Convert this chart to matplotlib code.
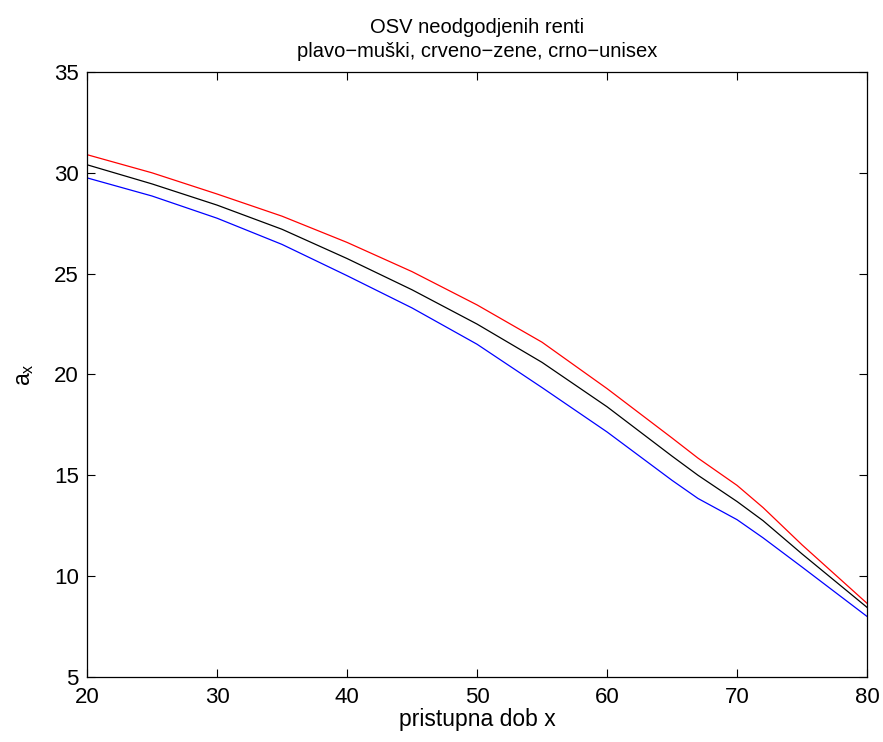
import matplotlib
matplotlib.use('Agg')
import matplotlib.pyplot as plt

# ages and annuity values
age_m = [20, 25, 30, 35, 40, 45, 50, 55, 60, 65, 67, 70, 72, 75, 80]
male = [29.75, 28.85, 27.75, 26.45, 24.9, 23.3, 21.5, 19.35, 17.15, 14.75, 13.85, 12.8, 11.9, 10.45, 8.0]

age_f = [20, 25, 30, 35, 40, 45, 50, 55, 60, 65, 67, 70, 72, 75, 80]
female = [30.9, 30.0, 28.95, 27.85, 26.55, 25.1, 23.45, 21.6, 19.3, 16.85, 15.85, 14.5, 13.4, 11.55, 8.65]

age_u = [20, 25, 30, 35, 40, 45, 50, 55, 60, 65, 67, 70, 72, 75, 80]
unisex = [30.4, 29.45, 28.4, 27.2, 25.75, 24.2, 22.5, 20.6, 18.4, 15.95, 15.0, 13.7, 12.75, 11.1, 8.45]

xticks = [20, 30, 40, 50, 60, 70, 80]
yticks = [5, 10, 15, 20, 25, 30, 35]

plt.rcParams['font.family'] = ['Liberation Sans', 'DejaVu Sans']

fig = plt.figure(figsize=(8.83, 7.42), dpi=100)
ax = fig.add_axes([0.0985, 0.0876, 0.8835, 0.8154])

ax.plot(age_m, male, color='blue', lw=0.9)
ax.plot(age_f, female, color='red', lw=0.9)
ax.plot(age_u, unisex, color='black', lw=0.9)

ax.set_xlim(20, 80)
ax.set_ylim(5, 35)
ax.set_xticks(xticks)
ax.set_yticks(yticks)
ax.tick_params(direction='in', top=True, right=True, length=6, width=0.8, labelsize=16)
ax.tick_params(axis='x', pad=7)
ax.tick_params(axis='y', pad=6)
for s in ax.spines.values():
    s.set_linewidth(0.9)

ax.set_title('OSV neodgodjenih renti\nplavo\u2212muški, crveno\u2212zene, crno\u2212unisex',
             fontsize=14.5, pad=11, linespacing=1.3)
ax.set_xlabel('pristupna dob x', fontsize=16.5, labelpad=0)
ax.set_ylabel(r'$\mathregular{a_x}$', fontsize=16.5, labelpad=13)

fig.savefig('out.png', dpi=100)
